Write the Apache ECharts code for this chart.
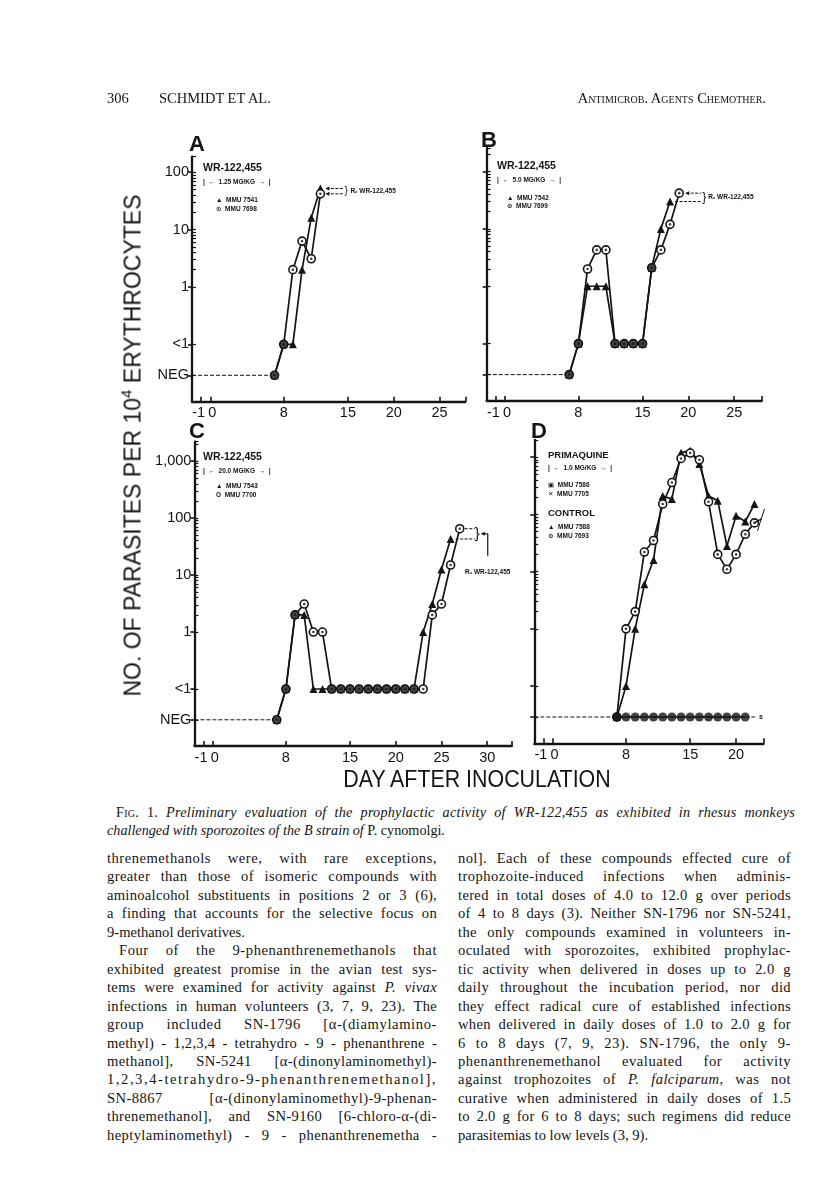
<!DOCTYPE html>
<html><head><meta charset="utf-8">
<script src="https://cdn.jsdelivr.net/npm/echarts@6/dist/echarts.min.js"></script>
<style>
html,body{margin:0;padding:0;background:#fff;}
#page{position:relative;width:816px;height:1202px;overflow:hidden;background:#fff;}
#chart{position:absolute;left:0;top:0;width:816px;height:800px;}
.t{position:absolute;white-space:nowrap;color:#141414;font-family:"Liberation Serif","DejaVu Serif",serif;}
.ln{position:absolute;font-family:"Liberation Serif","DejaVu Serif",serif;font-size:14.6px;line-height:18px;height:18px;color:#141414;white-space:nowrap;}
.cap{position:absolute;font-family:"Liberation Serif",serif;font-size:14.2px;line-height:18px;color:#141414;font-style:italic;white-space:nowrap;}
.sc{font-variant:small-caps;font-style:normal;}
</style></head>
<body><div id="page">
<div id="chart"></div>
<div class="t" style="left:107px;top:90px;font-size:14.5px;">306</div>
<div class="t" style="left:159px;top:90px;font-size:14.5px;">SCHMIDT ET AL.</div>
<div class="t" style="right:50px;top:90px;font-size:14.5px;font-variant:small-caps;">Antimicrob. Agents Chemother.</div>
<div id="ytitle" class="t" style="font-family:'Liberation Sans',Arial,sans-serif;font-size:23px;left:-127px;top:432px;width:520px;text-align:center;transform:rotate(-90deg);transform-origin:50% 50%;">NO. OF PARASITES PER 10<sup style="font-size:15px;vertical-align:9px;line-height:0;">4</sup> ERYTHROCYTES</div>
<div class="t" style="font-family:'Liberation Sans',Arial,sans-serif;font-size:23px;left:277px;top:766px;width:400px;text-align:center;transform:scaleX(0.93);">DAY AFTER INOCULATION</div>
<div id="cap1" class="cap" style="left:116px;top:803px;"><span class="sc">Fig. 1.</span> Preliminary evaluation of the prophylactic activity of WR-122,455 as exhibited in rhesus monkeys</div>
<div class="cap" style="left:107px;top:821px;">challenged with sporozoites of the B strain of <span style="font-style:normal">P. cynomolgi</span>.</div>
<div id="body"></div>
</div>
<script>
// ---------------- DATA ----------------
const NEG = 'NEG', LT1 = '<1';
// Panel A  (WR-122,455, 1.25 mg/kg)
const aDays = [7, 8, 9, 10, 11, 12];
const aTri  = [NEG, LT1, LT1, 2, 16, 52];      // MMU 7541
const aCirc = [NEG, LT1, 2, 6.3, 3.1, 42];     // MMU 7698
// Panel B  (5.0 mg/kg)
const bDaysTri  = [7, 8, 9, 10, 11, 12, 13, 14, 15, 16, 17, 18];
const bTri      = [NEG, LT1, 1, 1, 1, LT1, LT1, LT1, LT1, 2.1, 10, 30];          // MMU 7542
const bDaysCirc = [7, 8, 9, 10, 11, 12, 13, 14, 15, 16, 17, 18, 19];
const bCirc     = [NEG, LT1, 2, 4.3, 4.3, LT1, LT1, LT1, LT1, 2.1, 4.3, 12, 42]; // MMU 7699
// Panel C  (20.0 mg/kg)
const cDaysTri  = [7, 8, 9, 10, 11, 12, 13, 14, 15, 16, 17, 18, 19, 20, 21, 22, 23, 24, 25, 26];
const cTri      = [NEG, LT1, 2, 2, LT1, LT1, LT1, LT1, LT1, LT1, LT1, LT1, LT1, LT1, LT1, LT1, 1, 3.1, 12.5, 43];       // MMU 7543
const cDaysCirc = [7, 8, 9, 10, 11, 12, 13, 14, 15, 16, 17, 18, 19, 20, 21, 22, 23, 24, 25, 26, 27];
const cCirc     = [NEG, LT1, 2, 3.1, 1, 1, LT1, LT1, LT1, LT1, LT1, LT1, LT1, LT1, LT1, LT1, LT1, 2, 3.1, 15, 65];   // MMU 7700
// Panel D  (Primaquine 1.0 mg/kg and controls)
const dDays  = [7, 8, 9, 10, 11, 12, 13, 14, 15, 16, 17, 18, 19, 20, 21, 22];
const dTri   = [NEG, LT1, 1, 6, 16, 210, 185, 1200, 1300, 760, 210, 174, 28, 95, 75, 152];  // control MMU 7588
const dCirc  = [NEG, 1, 2, 22, 35, 152, 360, 950, 1180, 900, 166, 20, 11, 20, 45, 71];     // control MMU 7693
const dPrimDays = [7, 8, 9, 10, 11, 12, 13, 14, 15, 16, 17, 18, 19, 20, 21];
const dPrim     = [NEG, NEG, NEG, NEG, NEG, NEG, NEG, NEG, NEG, NEG, NEG, NEG, NEG, NEG, NEG]; // MMU 7586 / 7705
// Tick labels
const xLabelsAB = [-1, 0, 8, 15, 20, 25];
const xLabelsC  = [-1, 0, 8, 15, 20, 25, 30];
const xLabelsD  = [-1, 0, 8, 15, 20];
const yLabelText = {NEG: 'NEG', LT1: '<1', 0: '1', 1: '10', 2: '100', 3: '1,000'};

// ---------------- CHART ----------------
const INK = '#141414';
const FONT = '"Liberation Sans", "DejaVu Sans", Arial, sans-serif';
const NEG_Y = -1.54;
function toY(v) { return v === NEG ? NEG_Y : (v === LT1 ? -1 : Math.log10(v)); }
function pts(days, vals) { return days.map((d, i) => [d, toY(vals[i])]); }
function both(d1, v1, d2, v2) {
  const out = [];
  d1.forEach((d, i) => { const j = d2.indexOf(d); if (j >= 0 && v2[j] === v1[i]) out.push([d, toY(v1[i])]); });
  return out;
}
const panels = [
  {grid: {left: 192, top: 156.7, width: 273.3, height: 245}, xmin: -2, xmax: 27.8, ymax: 2.27, showY: true, xl: xLabelsAB, maj: [NEG_Y, -1, 0, 1, 2],
   tri: pts(aDays, aTri), circ: pts(aDays, aCirc), both: both(aDays, aTri, aDays, aCirc)},
  {grid: {left: 486.7, top: 148, width: 275, height: 253}, xmin: -2, xmax: 28, ymax: 2.41, showY: false, xl: xLabelsAB, maj: [NEG_Y, -1, 0, 1, 2],
   tri: pts(bDaysTri, bTri), circ: pts(bDaysCirc, bCirc), both: both(bDaysTri, bTri, bDaysCirc, bCirc)},
  {grid: {left: 194.4, top: 441.7, width: 317.5, height: 304.3}, xmin: -2, xmax: 32.7, ymax: 3.34, showY: true, xl: xLabelsC, maj: [NEG_Y, -1, 0, 1, 2, 3],
   tri: pts(cDaysTri, cTri), circ: pts(cDaysCirc, cCirc), both: both(cDaysTri, cTri, cDaysCirc, cCirc)},
  {grid: {left: 534.3, top: 440, width: 229.3, height: 303.3}, xmin: -2, xmax: 23, ymax: 3.3, showY: false, xl: xLabelsD, maj: [NEG_Y, -1, 0, 1, 2, 3],
   tri: pts(dDays, dTri), circ: pts(dDays, dCirc), both: both(dDays, dTri, dDays, dCirc).concat(pts(dPrimDays, dPrim))}
];

function yFmt(v) {
  if (Math.abs(v - NEG_Y) < 1e-6) return yLabelText.NEG;
  if (Math.abs(v + 1) < 1e-6) return yLabelText.LT1;
  const k = Math.round(v);
  return Math.abs(v - k) < 1e-6 && yLabelText[k] !== undefined ? yLabelText[k] : '';
}
function xFmt(v) { return v < 0 ? '{m|' + v + '}' : (v === 0 ? '{z|0}' : String(v)); }

const opt = {animation: false, grid: [], xAxis: [], yAxis: [], series: []};
panels.forEach((p, i) => {
  opt.grid.push(Object.assign({containLabel: false}, p.grid));
  opt.xAxis.push({
    type: 'value', gridIndex: i, min: p.xmin, max: p.xmax,
    axisLine: {show: true, onZero: false, lineStyle: {color: INK, width: 2.3}},
    axisTick: {show: true, inside: true, length: 5, customValues: p.xl.concat([p.xmax]), lineStyle: {color: INK, width: 1.6}},
    axisLabel: {show: true, showMinLabel: true, showMaxLabel: true, hideOverlap: false, customValues: p.xl, formatter: xFmt,
      fontSize: 14.5, color: INK, fontFamily: FONT, margin: 4,
      rich: {m: {fontSize: 14.5, color: INK, fontFamily: FONT, padding: [0, 5, 0, 0]}, z: {fontSize: 14.5, color: INK, fontFamily: FONT, padding: [0, 0, 0, 4]}}},
    splitLine: {show: false}
  });
  const minor = [];
  for (let n = 0; n <= 3; n++) for (let k = 2; k <= 9; k++) { const v = n + Math.log10(k); if (v < p.ymax - 0.03) minor.push(v); }
  opt.yAxis.push({
    type: 'value', gridIndex: i, min: -2, max: p.ymax, position: 'left',
    axisLine: {show: true, onZero: false, lineStyle: {color: INK, width: 2.3}},
    axisTick: {show: true, inside: false, length: 4, customValues: p.maj, lineStyle: {color: INK, width: 1.6}},
    axisLabel: {show: p.showY, showMinLabel: true, showMaxLabel: true, customValues: p.maj, formatter: yFmt, fontSize: 14.5, color: INK, fontFamily: FONT, margin: 3},
    splitLine: {show: false}
  });
  opt.yAxis.push({
    type: 'value', gridIndex: i, min: -2, max: p.ymax, position: 'left',
    axisLine: {show: false, onZero: false},
    axisTick: {show: true, inside: true, length: 4, customValues: p.maj.concat(minor, [p.ymax]), lineStyle: {color: INK, width: 1.2}},
    axisLabel: {show: false}, splitLine: {show: false}
  });
  const xa = i, ya = 2 * i;
  opt.series.push({type: 'line', xAxisIndex: xa, yAxisIndex: ya, data: [[p.xmin, NEG_Y], [p.tri[0][0], NEG_Y]], symbol: 'none', silent: true,
    lineStyle: {color: INK, width: 1, type: [4, 2]}, z: 2});
  if (i === 3) {
    opt.series.push({type: 'line', xAxisIndex: xa, yAxisIndex: ya, data: pts(dPrimDays, dPrim), symbol: 'none', silent: true,
      lineStyle: {color: INK, width: 1.6}, z: 3});
    const lp = pts(dPrimDays, dPrim); const last = lp[lp.length - 1];
    opt.series.push({type: 'line', xAxisIndex: xa, yAxisIndex: ya, data: [last, [last[0] + 1.3, last[1]]], symbol: 'none', silent: true,
      lineStyle: {color: INK, width: 1.2, type: [4, 2]}, z: 3});
  }
  opt.series.push({type: 'line', xAxisIndex: xa, yAxisIndex: ya, data: p.tri, symbol: 'triangle', symbolSize: 8, showAllSymbol: true, silent: true,
    itemStyle: {color: INK}, lineStyle: {color: INK, width: 1.7}, z: 4});
  opt.series.push({type: 'line', xAxisIndex: xa, yAxisIndex: ya, data: p.circ, symbol: 'circle', symbolSize: 8, showAllSymbol: true, silent: true,
    itemStyle: {color: '#fff', borderColor: INK, borderWidth: 1.6}, lineStyle: {color: INK, width: 1.7}, z: 4});
  opt.series.push({type: 'scatter', xAxisIndex: xa, yAxisIndex: ya, data: p.circ, symbol: 'circle', symbolSize: 2.6, silent: true,
    itemStyle: {color: INK}, z: 5});
  opt.series.push({type: 'scatter', xAxisIndex: xa, yAxisIndex: ya, data: p.both, symbol: 'circle', symbolSize: 9, silent: true,
    itemStyle: {color: INK}, z: 6});
});

const chart = echarts.init(document.getElementById('chart'), null, {renderer: 'canvas'});
chart.setOption(opt);

// ---------------- ANNOTATIONS / LEGENDS ----------------
const g = [];
function P(i, x, y) { return chart.convertToPixel({xAxisIndex: i, yAxisIndex: 2 * i}, [x, y]); }
function txt(x, y, text, size, extra) {
  g.push({type: 'text', x: x, y: y, silent: true, z: 20,
    style: Object.assign({text: text, fontSize: size, fontFamily: FONT, fontWeight: 'bold', fill: INK, align: 'left', verticalAlign: 'middle'}, extra || {})});
}
function seg(a, b, dashed, w) {
  g.push({type: 'line', silent: true, z: 20, shape: {x1: a[0], y1: a[1], x2: b[0], y2: b[1]},
    style: {stroke: INK, lineWidth: w || 1, lineDash: dashed ? [3, 1.5] : null}});
}
function arrowL(x, y) { g.push({type: 'polygon', silent: true, z: 20, shape: {points: [[x, y], [x + 4, y - 2], [x + 4, y + 2]]}, style: {fill: INK}}); }

txt(197, 145, 'A', 22, {align: 'center'});
txt(489, 141, 'B', 22, {align: 'center'});
txt(197, 432, 'C', 22, {align: 'center'});
txt(539, 432, 'D', 22, {align: 'center'});

txt(203, 168.5, 'WR-122,455', 10.5);
txt(203, 182, '|  \u2190  1.25 MG/KG  \u2192  |', 6.5);
txt(216, 200, '\u25B2  MMU 7541', 6.5);
txt(216, 209, '\u2299  MMU 7698', 6.5);

txt(497, 166, 'WR-122,455', 10.5);
txt(497, 180.7, '|  \u2190  5.0 MG/KG  \u2192  |', 6.5);
txt(507, 198.5, '\u25B2  MMU 7542', 6.5);
txt(507, 206.7, '\u2299  MMU 7699', 6.5);

txt(203, 456.7, 'WR-122,455', 10.5);
txt(203, 471, '|  \u2190  20.0 MG/KG  \u2192  |', 6.5);
txt(216, 486, '\u25B2  MMU 7543', 6.5);
txt(216, 495.7, 'O  MMU 7700', 6.5);

txt(548, 455, 'PRIMAQUINE', 9.5);
txt(548, 468, '|  \u2190  1.0 MG/KG  \u2192  |', 6.5);
txt(548, 485, '\u25A3  MMU 7586', 6.5);
txt(548, 494, '\u2715  MMU 7705', 6.5);
txt(548, 513.5, 'CONTROL', 9.5);
txt(548, 527.3, '\u25B2  MMU 7588', 6.5);
txt(548, 536.7, '\u2299  MMU 7693', 6.5);

(function () {
  let t = panels[0].tri[panels[0].tri.length - 1], c = panels[0].circ[panels[0].circ.length - 1];
  let p1 = P(0, t[0], t[1]), p2 = P(0, c[0], c[1]);
  let xe = p1[0] + 23;
  seg([p1[0] + 6, p1[1]], [xe, p1[1]], true); arrowL(p1[0] + 5, p1[1]);
  seg([p2[0] + 6, p2[1]], [xe, p2[1]], true); arrowL(p2[0] + 5, p2[1]);
  txt(xe + 1, (p1[1] + p2[1]) / 2, '}', 10, {fontWeight: 'normal'});
  txt(xe + 7, (p1[1] + p2[1]) / 2, 'R\u2093 WR-122,455', 6.5);
  t = panels[1].tri[panels[1].tri.length - 1]; c = panels[1].circ[panels[1].circ.length - 1];
  p1 = P(1, t[0], t[1]); p2 = P(1, c[0], c[1]);
  xe = p2[0] + 22;
  seg([p1[0] + 5, p1[1]], [xe, p1[1]], true);
  seg([p2[0] + 7, p2[1]], [xe, p2[1]], true); arrowL(p2[0] + 6, p2[1]);
  txt(xe + 1, (p1[1] + p2[1]) / 2, '}', 12, {fontWeight: 'normal'});
  txt(xe + 7, (p1[1] + p2[1]) / 2, 'R\u2093 WR-122,455', 6.5);
  t = panels[2].tri[panels[2].tri.length - 1]; c = panels[2].circ[panels[2].circ.length - 1];
  p1 = P(2, t[0], t[1]); p2 = P(2, c[0], c[1]);
  xe = p2[0] + 15;
  seg([p1[0] + 5, p1[1]], [xe, p1[1]], true);
  seg([p2[0] + 5, p2[1]], [xe, p2[1]], true);
  const my = (p1[1] + p2[1]) / 2;
  txt(xe, my, '}', 15, {fontWeight: 'normal'});
  arrowL(xe + 6, my);
  seg([xe + 9, my], [xe + 13, my], false, 1.2);
  seg([xe + 13, my], [xe + 13, my + 22], false, 1.2);
  txt(xe + 13, my + 38, 'R\u2093 WR-122,455', 6.5, {align: 'center'});
  const dc = panels[3].circ[panels[3].circ.length - 1];
  const q = P(3, dc[0], dc[1]);
  seg([q[0], q[1]], [q[0] + 7, q[1] - 4], false, 1.4);
  seg([q[0] + 3, q[1] + 8], [q[0] + 10, q[1] - 14], false, 1);
  const lp = P(3, dPrimDays[dPrimDays.length - 1] + 1.5, NEG_Y);
  txt(lp[0], lp[1], 's', 7);
})();
chart.setOption({graphic: g});

// ---------------- BODY TEXT ----------------
const leftLines = [
  ['threnemethanols were, with rare exceptions,', 0, 0],
  ['greater than those of isomeric compounds with', 0, 0],
  ['aminoalcohol substituents in positions 2 or 3 (6),', 0, 0],
  ['a finding that accounts for the selective focus on', 0, 0],
  ['9-methanol derivatives.', 0, 1],
  ['Four of the 9-phenanthrenemethanols that', 12, 0],
  ['exhibited greatest promise in the avian test sys-', 0, 0],
  ['tems were examined for activity against <i>P. vivax</i>', 0, 0],
  ['infections in human volunteers (3, 7, 9, 23). The', 0, 0],
  ['group included SN-1796 [α-(diamylamino-', 0, 0],
  ['methyl) - 1,2,3,4 - tetrahydro - 9 - phenanthrene -', 0, 0],
  ['methanol], SN-5241 [α-(dinonylaminomethyl)-', 0, 0],
  ['1,2,3,4-tetrahydro-9-phenanthrenemethanol],', 0, 0],
  ['SN-8867 [α-(dinonylaminomethyl)-9-phenan-', 0, 0],
  ['threnemethanol], and SN-9160 [6-chloro-α-(di-', 0, 0],
  ['heptylaminomethyl) - 9 - phenanthrenemetha -', 0, 0]
];
const rightLines = [
  ['nol]. Each of these compounds effected cure of', 0, 0],
  ['trophozoite-induced infections when adminis-', 0, 0],
  ['tered in total doses of 4.0 to 12.0 g over periods', 0, 0],
  ['of 4 to 8 days (3). Neither SN-1796 nor SN-5241,', 0, 0],
  ['the only compounds examined in volunteers in-', 0, 0],
  ['oculated with sporozoites, exhibited prophylac-', 0, 0],
  ['tic activity when delivered in doses up to 2.0 g', 0, 0],
  ['daily throughout the incubation period, nor did', 0, 0],
  ['they effect radical cure of established infections', 0, 0],
  ['when delivered in daily doses of 1.0 to 2.0 g for', 0, 0],
  ['6 to 8 days (7, 9, 23). SN-1796, the only 9-', 0, 0],
  ['phenanthrenemethanol evaluated for activity', 0, 0],
  ['against trophozoites of <i>P. falciparum</i>, was not', 0, 0],
  ['curative when administered in daily doses of 1.5', 0, 0],
  ['to 2.0 g for 6 to 8 days; such regimens did reduce', 0, 0],
  ['parasitemias to low levels (3, 9).', 0, 1]
];
function fit(el, target) {
  const w = el.getBoundingClientRect().width;
  const txtc = el.textContent;
  const n = txtc.length;
  const spaces = (txtc.match(/ /g) || []).length;
  let extra = target - w;
  if (extra <= 0 || spaces === 0) { el.style.letterSpacing = (extra / n) + 'px'; return; }
  const ls = Math.min(0.6, extra * 0.3 / n);
  el.style.letterSpacing = ls + 'px';
  const w2 = el.getBoundingClientRect().width;
  el.style.wordSpacing = ((target - w2) / spaces) + 'px';
}
const body = document.getElementById('body');
function col(lines, left, width) {
  lines.forEach((l, i) => {
    const d = document.createElement('div');
    d.className = 'ln';
    d.style.left = (left + l[1]) + 'px';
    d.style.top = (849 + i * 18.45) + 'px';
    d.innerHTML = l[0];
    body.appendChild(d);
    if (!l[2]) fit(d, width - l[1]);
  });
}
col(leftLines, 107, 330);
col(rightLines, 458, 333);
fit(document.getElementById('cap1'), 679);
</script>
</body></html>
